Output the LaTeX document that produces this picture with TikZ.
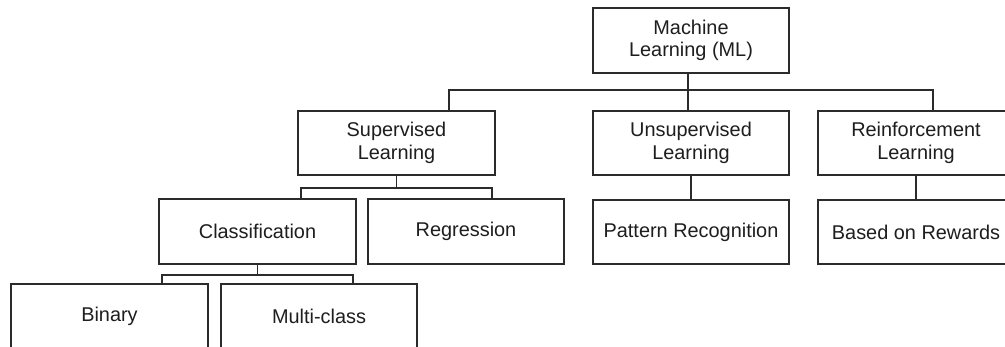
\documentclass[tikz,border=0pt]{standalone}
\usepackage{fontspec}
\setmainfont{Liberation Sans}
\definecolor{ink}{HTML}{2B2B2B}
\definecolor{txt}{HTML}{1E1E1E}
\begin{document}
\begin{tikzpicture}[x=1pt,y=-1pt,
  box/.style={draw=ink, line width=1.6pt, fill=white, text=txt,
    minimum width=196.5pt, minimum height=64.5pt, inner sep=0pt,
    align=center, font=\fontsize{19.9}{22.5}\selectfont},
  link/.style={draw=ink, line width=1.6pt}]
\useasboundingbox (0,0) rectangle (1005,347);
\clip (0,0) rectangle (1005,347);
\fill[white] (0,0) rectangle (1005,347);

% top level
\node[box] (ml)   at (691,40.5)  {Machine\\Learning (ML)};
% learning paradigms
\node[box] (sup)  at (396.5,143) {Supervised\\Learning};
\node[box] (uns)  at (691,143)   {Unsupervised\\Learning};
\node[box] (rein) at (916,143)   {Reinforcement\\Learning};
% tasks
\node[box] (cls)  at (257.5,231.5) {Classification};
\node[box] (reg)  at (466,231.5)   {Regression};
\node[box] (pat)  at (691,232)     {Pattern Recognition};
\node[box] (rew)  at (916,232)     {Based on Rewards};
% classification kinds
\node[box] (bin)  at (109.5,316.5) {Binary};
\node[box] (mul)  at (319,316.5)   {Multi-class};

% ML -> paradigms
\coordinate (busL) at (449,90);
\coordinate (busR) at (933,90);
\draw[link] ([xshift=-3pt]ml.south) -- ([xshift=-3pt]uns.north);
\draw[link] (busL |- sup.north) -- (busL) -- (busR) -- (busR |- rein.north);

% supervised -> tasks
\coordinate (sbL) at (301,188);
\coordinate (sbR) at (492,188);
\draw[link] (sup.south) -- (sup.south |- sbL);
\draw[link] (sbL |- cls.north) -- (sbL) -- (sbR) -- (sbR |- reg.north);

% unsupervised / reinforcement -> tasks
\draw[link] (uns.south) -- (pat.north);
\draw[link] (rein.south) -- (rew.north);

% classification -> kinds
\coordinate (cbL) at (162,275);
\coordinate (cbR) at (353,275);
\draw[link] (cls.south) -- (cls.south |- cbL);
\draw[link] (cbL |- bin.north) -- (cbL) -- (cbR) -- (cbR |- mul.north);
\end{tikzpicture}
\end{document}
